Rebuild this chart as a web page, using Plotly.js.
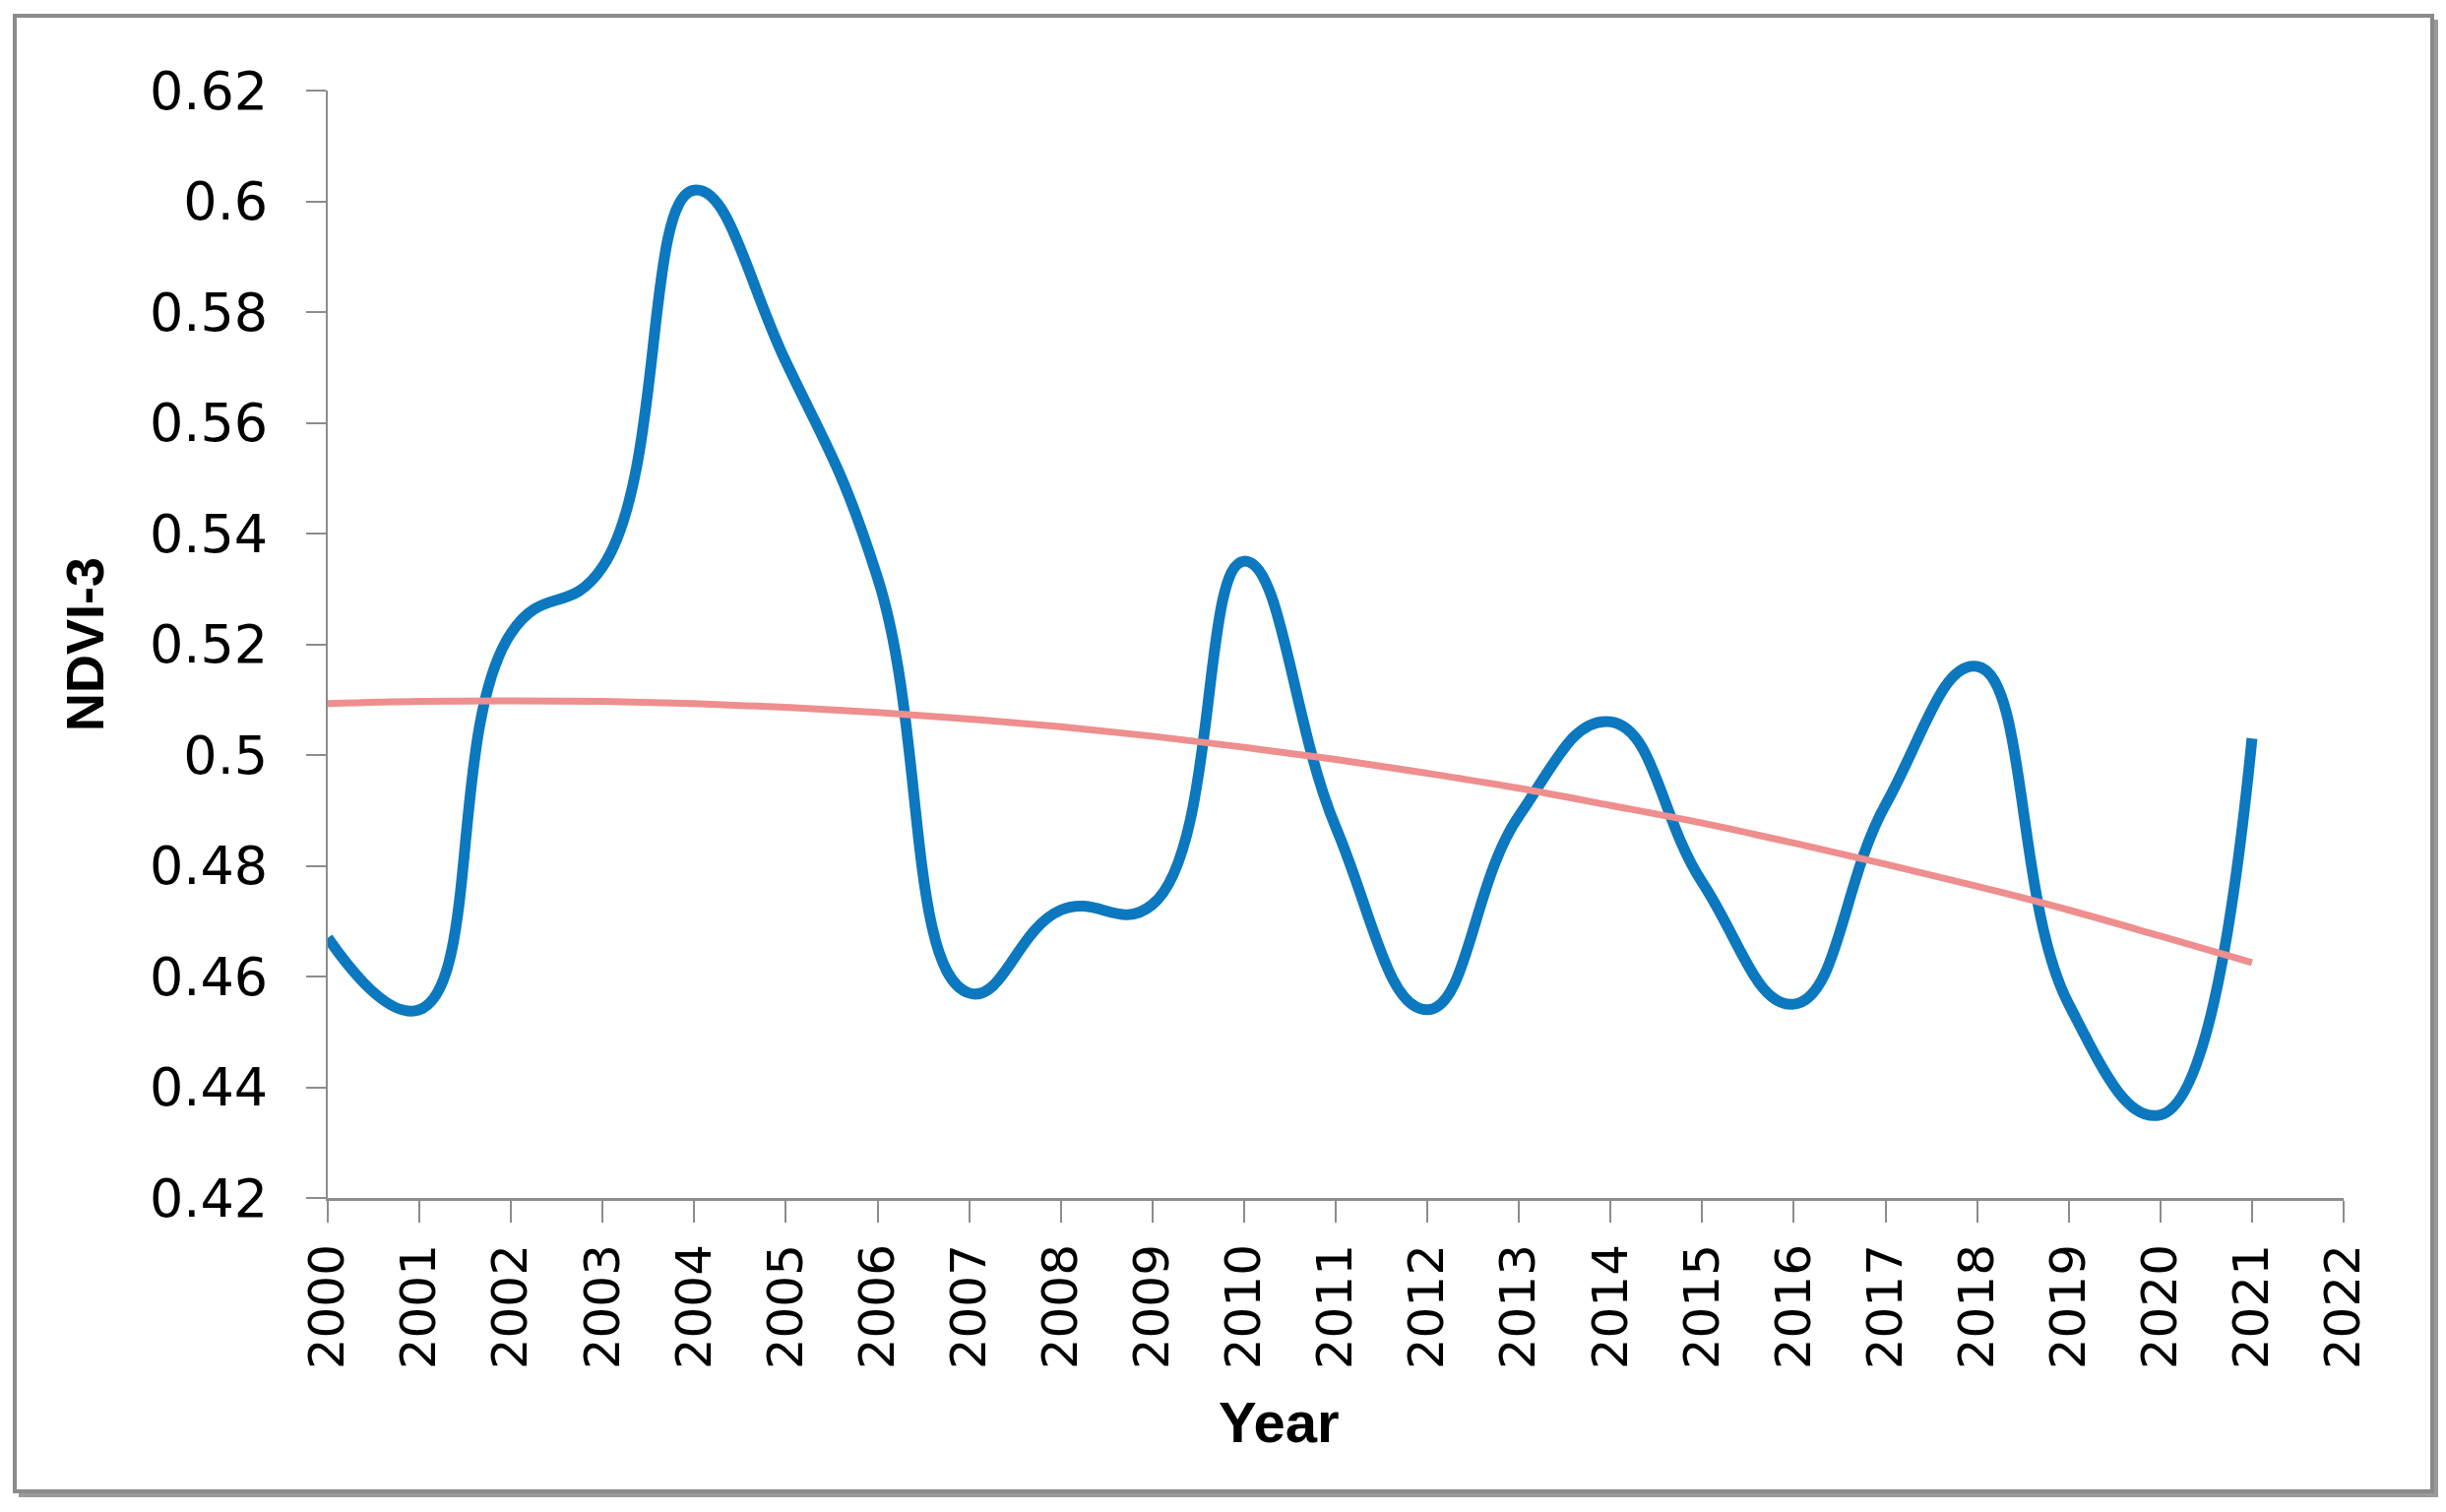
<!DOCTYPE html>
<html>
<head>
<meta charset="utf-8">
<script src="https://cdn.plot.ly/plotly-3.0.1.min.js"></script>
<style>
html,body{margin:0;padding:0;background:#fff;}
#chart{width:2485px;height:1536px;}
</style>
</head>
<body>
<div id="chart"></div>
<script>
const years = [2000,2001,2002,2003,2004,2005,2006,2007,2008,2009,2010,2011,2012,2013,2014,2015,2016,2017,2018,2019,2020,2021];
const ndvi3 = [0.467,0.454,0.522,0.534,0.602,0.571,0.532,0.457,0.472,0.473,0.535,0.487,0.454,0.489,0.506,0.477,0.455,0.491,0.516,0.455,0.435,0.503];
const trend = [0.5093,0.5097,0.5098,0.5097,0.5093,0.5086,0.5077,0.5065,0.5051,0.5034,0.5014,0.4992,0.4967,0.4940,0.4909,0.4877,0.4841,0.4803,0.4763,0.4720,0.4673,0.4625];
const yTicks = [0.42,0.44,0.46,0.48,0.5,0.52,0.54,0.56,0.58,0.6,0.62];
const yTickText = ['0.42','0.44','0.46','0.48','0.5','0.52','0.54','0.56','0.58','0.6','0.62'];
const xTicks = [2000,2001,2002,2003,2004,2005,2006,2007,2008,2009,2010,2011,2012,2013,2014,2015,2016,2017,2018,2019,2020,2021,2022];
const xTitle = 'Year';
const yTitle = 'NDVI-3';

const W = 2485, H = 1536;
const L = 333, R = 2381, T = 92, B = 1217;
const pw = R - L, ph = B - T;
function px(x){ return (x - L) / pw; }
function py(y){ return (B - y) / ph; }

const traces = [
  {
    x: years, y: ndvi3, type: 'scatter', mode: 'lines', name: 'NDVI-3',
    line: {color: '#0B78BF', width: 11, shape: 'spline', smoothing: 1.3}
  },
  {
    x: years, y: trend, type: 'scatter', mode: 'lines', name: 'Poly. (NDVI-3)',
    line: {color: '#EE8E8E', width: 7, shape: 'spline', smoothing: 1}
  }
];

const axisCol = '#8C8C8C';
const frameCol = '#8A8A8A';
const layout = {
  width: W, height: H, autosize: false,
  margin: {l: L, r: W - R, t: T, b: H - B, pad: 0},
  paper_bgcolor: '#ffffff', plot_bgcolor: '#ffffff',
  showlegend: false,
  xaxis: {
    range: [2000, 2022], tickmode: 'array', tickvals: xTicks, ticktext: xTicks.map(String),
    tickangle: -90, ticks: 'outside', ticklen: 22, tickwidth: 2, tickcolor: axisCol,
    showline: true, linecolor: axisCol, linewidth: 3, showgrid: false, zeroline: false,
    tickfont: {family: 'DejaVu Sans, sans-serif', size: 50, color: '#000'},
    ticklabelstandoff: 2,
    automargin: false, fixedrange: true
  },
  yaxis: {
    range: [0.42, 0.62], tickmode: 'array', tickvals: yTicks, ticktext: yTickText,
    ticks: 'outside', ticklen: 20, tickwidth: 2, tickcolor: axisCol,
    showline: true, linecolor: axisCol, linewidth: 2, showgrid: false, zeroline: false,
    tickfont: {family: 'DejaVu Sans, sans-serif', size: 54, color: '#000'},
    ticklabelstandoff: 28,
    title: {text: '<b>' + yTitle + '</b>', font: {family: 'Liberation Sans, Arial, sans-serif', size: 54, color: '#000'}, standoff: 29},
    automargin: false, fixedrange: true
  },
  annotations: [
    {text: '<b>' + xTitle + '</b>', xref: 'paper', yref: 'paper', x: px(1299), y: py(1445),
     xanchor: 'center', yanchor: 'middle', showarrow: false,
     font: {family: 'Liberation Sans, Arial, sans-serif', size: 58, color: '#000'}}
  ],
  shapes: [
    {type: 'rect', xref: 'paper', yref: 'paper', layer: 'below',
     x0: px(15), x1: px(2471), y0: py(1515), y1: py(16),
     line: {color: frameCol, width: 4}, fillcolor: 'rgba(0,0,0,0)'},
    {type: 'line', xref: 'paper', yref: 'paper', layer: 'below',
     x0: px(2475), x1: px(2475), y0: py(20), y1: py(1519),
     line: {color: '#9A9A9A', width: 4}},
    {type: 'line', xref: 'paper', yref: 'paper', layer: 'below',
     x0: px(19), x1: px(2477), y0: py(1519), y1: py(1519),
     line: {color: '#9A9A9A', width: 4}}
  ]
};

Plotly.newPlot('chart', traces, layout, {displayModeBar: false, staticPlot: true});
</script>
</body>
</html>
